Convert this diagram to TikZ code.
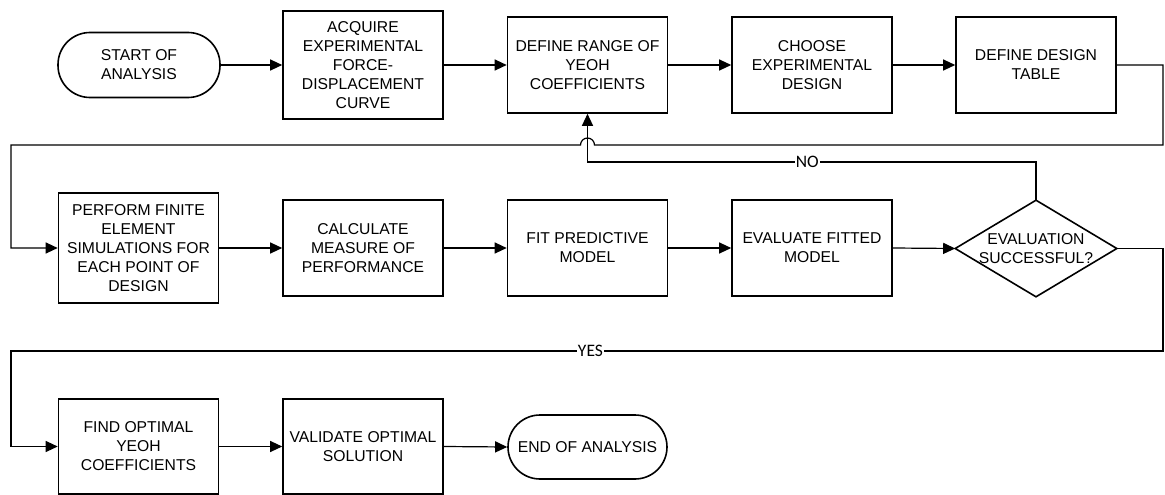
\documentclass[tikz,border=0pt]{standalone}
\usepackage{fontspec}
\setmainfont{Liberation Sans}
\newfontfamily\answerfont{Carlito}
\usetikzlibrary{arrows.meta}
\tikzset{
  every picture/.style={line width=1.2pt},
  box/.style={draw, line width=1.6pt, align=center, minimum width=160pt, minimum height=96pt, inner sep=2pt, font=\fontsize{15.7}{19}\selectfont},
  term/.style={box, rounded corners=32pt, minimum height=64pt},
  arrow/.style={-{Triangle[length=12pt, width=11pt]}, line width=1.2pt},
  answer/.style={fill=white, inner sep=1pt, font=\answerfont\fontsize{17.5}{19}\selectfont},
}

\begin{document}
\begin{tikzpicture}[x=1pt, y=-1pt]
  \useasboundingbox (0,0) rectangle (1165,495);
  % first row
  \node[term, minimum width=162pt, minimum height=65pt] (start) at (139,65) {START OF\\ANALYSIS};
  \node[box, minimum height=108pt] (acq) at (363,65) {ACQUIRE\\EXPERIMENTAL\\FORCE-\\DISPLACEMENT\\CURVE};
  \node[box] (rng) at (587.5,65) {DEFINE RANGE OF\\YEOH\\COEFFICIENTS};
  \node[box] (cho) at (812,65) {CHOOSE\\EXPERIMENTAL\\DESIGN};
  \node[box] (tab) at (1036,65) {DEFINE DESIGN\\TABLE};
  % second row
  \node[box, minimum height=110pt] (per) at (138.5,248) {PERFORM FINITE\\ELEMENT\\SIMULATIONS FOR\\EACH POINT OF\\DESIGN};
  \node[box] (cal) at (363,248) {CALCULATE\\MEASURE OF\\PERFORMANCE};
  \node[box] (fit) at (587.5,248) {FIT PREDICTIVE\\MODEL};
  \node[box] (evl) at (812,248) {EVALUATE FITTED\\MODEL};
  \node[box, draw=none, minimum height=95pt] (dec) at (1036,248.5) {EVALUATION\\SUCCESSFUL?};
  \draw[line width=1.6pt] (dec.north) -- (dec.east) -- (dec.south) -- (dec.west) -- cycle;
  % third row
  \node[box, minimum height=95pt] (fnd) at (138.5,446.5) {FIND OPTIMAL\\YEOH\\COEFFICIENTS};
  \node[box, minimum height=95pt] (val) at (363,446.5) {VALIDATE OPTIMAL\\SOLUTION};
  \node[term, minimum width=159pt] (end) at (587.5,447) {END OF ANALYSIS};
  % bends
  \coordinate (l1) at (1163,145);
  \coordinate (l2) at (11,145);
  \coordinate (n1) at (1036,162);
  \coordinate (y1) at (1163,351);
  \coordinate (y2) at (11,351);
  \foreach \a/\b in {start/acq, acq/rng, rng/cho, cho/tab, per/cal, cal/fit, fit/evl, evl/dec, fnd/val, val/end}
    \draw[arrow] (\a.east) -- (\b.west);
  \draw[arrow] (tab.east) -| (l1) -- (594.5,145) arc[start angle=0, end angle=180, radius=7pt] -- (l2) |- (per.west);
  \draw[arrow] (dec.north) -- (n1) -- node[answer, pos=0.51] {NO} (n1 -| rng.south) -- (rng.south);
  \draw[arrow] (dec.east) -| (y1) -- node[answer, pos=0.497] {YES} (y2) |- (fnd.west);
\end{tikzpicture}
\end{document}
